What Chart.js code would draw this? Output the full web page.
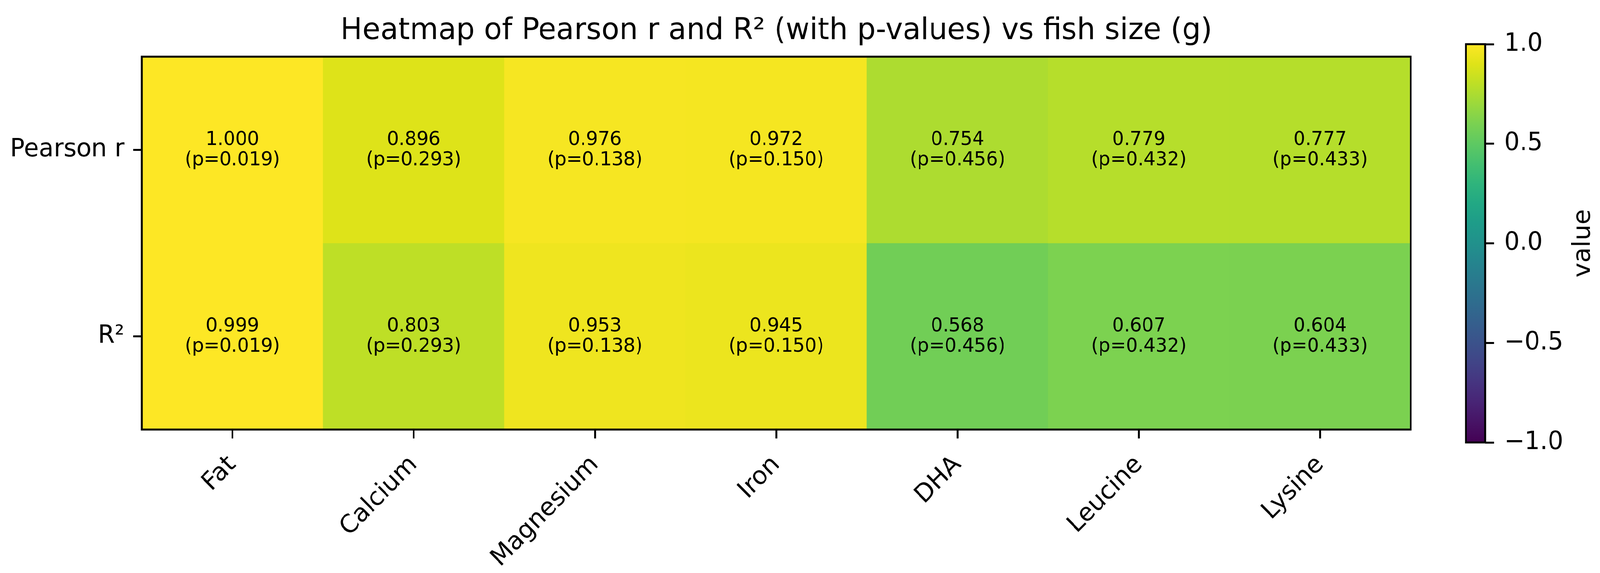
<!DOCTYPE html>
<html>
<head>
<meta charset="utf-8">
<script src="https://cdn.jsdelivr.net/npm/chart.js@4.4.1/dist/chart.umd.min.js"></script>
<style>
  html, body { margin: 0; padding: 0; background: #ffffff; overflow: hidden; }
  #stage { position: absolute; left: 0; top: 0; width: 4210px; height: 1466px; transform-origin: 0 0; }
  canvas { position: absolute; top: 0; }
  #main { left: 0; }
  #cbar { left: 3780px; }
</style>
</head>
<body>
<div id="stage">
<canvas id="main" width="4085" height="1466"></canvas>
<canvas id="cbar" width="430" height="1466"></canvas>
</div>
<script>
// ---------------- data ----------------
const categories = ['Fat', 'Calcium', 'Magnesium', 'Iron', 'DHA', 'Leucine', 'Lysine'];
const rowLabels = ['Pearson r', 'R²'];
const pearsonR = [1.000, 0.896, 0.976, 0.972, 0.754, 0.779, 0.777];
const rSquared = [0.999, 0.803, 0.953, 0.945, 0.568, 0.607, 0.604];
const pValues  = [0.019, 0.293, 0.138, 0.150, 0.456, 0.432, 0.433];
const titleText = 'Heatmap of Pearson r and R² (with p-values) vs fish size (g)';
const colorbarLabel = 'value';
const colorMin = -1, colorMax = 1;

const rowValues = [pearsonR, rSquared];

// fit the 4210x1466 design into the actual viewport
(function fitStage() {
  const sx = window.innerWidth / 4210, sy = window.innerHeight / 1466;
  document.getElementById('stage').style.transform = `scale(${sx}, ${sy})`;
})();

// ---------------- viridis colormap ----------------
const VIRIDIS = ['#440154','#471365','#482475','#463480','#414487','#3b528b','#355f8d',
  '#2f6c8e','#2a788e','#25848e','#21918c','#1e9c89','#22a884','#2fb47c','#44bf70',
  '#5ec962','#7ad151','#9bd93c','#bddf26','#dfe318','#fde725'];
function hexToRgb(h) { return [parseInt(h.slice(1,3),16), parseInt(h.slice(3,5),16), parseInt(h.slice(5,7),16)]; }
const VIR_RGB = VIRIDIS.map(hexToRgb);
function viridis(t) {
  t = Math.max(0, Math.min(1, t));
  const pos = t * (VIR_RGB.length - 1);
  const i = Math.min(Math.floor(pos), VIR_RGB.length - 2);
  const f = pos - i;
  const a = VIR_RGB[i], b = VIR_RGB[i + 1];
  const c = a.map((v, k) => Math.round(v + (b[k] - v) * f));
  return `rgb(${c[0]},${c[1]},${c[2]})`;
}
function colorFor(v) { return viridis((v - colorMin) / (colorMax - colorMin)); }

Chart.defaults.font.family = "'DejaVu Sans', 'Liberation Sans', sans-serif";
Chart.defaults.color = '#000000';

const LW = 5;            // axes line width
const TICK_LEN = 22.75;  // tick length
const TICK_FONT = 64;

const framePlugin = {
  id: 'frame',
  afterDraw(chart) {
    const { ctx, chartArea: a } = chart;
    ctx.save();
    ctx.strokeStyle = '#000';
    ctx.lineWidth = LW;
    ctx.strokeRect(a.left, a.top, a.right - a.left, a.bottom - a.top);
    ctx.restore();
  }
};

const cellTextPlugin = {
  id: 'cellText',
  afterDatasetsDraw(chart) {
    const { ctx } = chart;
    ctx.save();
    ctx.fillStyle = '#000';
    ctx.textAlign = 'center';
    ctx.textBaseline = 'alphabetic';
    ctx.font = "49px 'DejaVu Sans'";
    chart.data.datasets.forEach((ds, di) => {
      const meta = chart.getDatasetMeta(di);
      meta.data.forEach((el, j) => {
        const cy = (el.y + el.base) / 2;
        ctx.fillText(rowValues[di][j].toFixed(3), el.x, cy - 12.5);
        ctx.fillText('(p=' + pValues[j].toFixed(3) + ')', el.x, cy + 39);
      });
    });
    ctx.restore();
  }
};

// row i occupies [nRows-1-i, nRows-i] on the value axis
const nRows = rowLabels.length;
const datasets = rowLabels.map((lab, i) => ({
  label: lab,
  data: categories.map(() => [nRows - 1 - i, nRows - i]),
  backgroundColor: (c) => colorFor(rowValues[i][c.dataIndex]),
  borderWidth: 0,
  barPercentage: 1.0,
  categoryPercentage: 1.0,
  grouped: false,
  xAxisID: 'x',
  yAxisID: 'y'
}));

new Chart(document.getElementById('main'), {
  type: 'bar',
  data: { labels: categories, datasets },
  options: {
    responsive: false,
    animation: false,
    devicePixelRatio: 1,
    layout: { padding: { left: 0, right: 0, top: 0, bottom: 0 } },
    plugins: {
      legend: { display: false },
      tooltip: { enabled: false },
      title: {
        display: true,
        text: titleText,
        color: '#000',
        font: { size: 77, weight: 'normal' },
        padding: { top: 34.2, bottom: 18.4 }
      }
    },
    scales: {
      x: {
        type: 'category',
        offset: true,
        grid: { display: true, offset: false, drawOnChartArea: false, drawTicks: true,
                tickLength: TICK_LEN, tickColor: '#000', tickWidth: LW },
        border: { display: false },
        ticks: { color: '#000', font: { size: TICK_FONT }, minRotation: 45, maxRotation: 45,
                 padding: 30, autoSkip: false },
        afterFit(s) { s.height = 367; }
      },
      y: {
        type: 'linear',
        position: 'left',
        min: 0, max: nRows,
        grid: { display: true, drawOnChartArea: false, drawTicks: true,
                tickLength: TICK_LEN, tickColor: '#000', tickWidth: LW },
        border: { display: false },
        afterBuildTicks(s) { s.ticks = rowLabels.map((_, i) => ({ value: nRows - i - 0.5 })); },
        ticks: {
          color: '#000', font: { size: TICK_FONT }, padding: 22.75,
          callback: (v) => rowLabels[Math.round(nRows - 0.5 - v)]
        },
        afterFit(s) { s.width = 373; }
      },
      // empty spacer on the right so the title centres over the heatmap
      ySpacer: {
        type: 'linear',
        position: 'right',
        display: true,
        grid: { display: false },
        border: { display: false },
        ticks: { display: false },
        afterFit(s) { s.width = 373; }
      }
    }
  },
  plugins: [framePlugin, cellTextPlugin]
});

// ---------------- colorbar ----------------
const cbarLabelPlugin = {
  id: 'cbarLabel',
  afterDraw(chart) {
    const { ctx, chartArea: a } = chart;
    ctx.save();
    ctx.fillStyle = '#000';
    ctx.font = TICK_FONT + "px 'DejaVu Sans'";
    ctx.textAlign = 'center';
    ctx.textBaseline = 'alphabetic';
    ctx.translate(a.right + 275, (a.top + a.bottom) / 2);
    ctx.rotate(-Math.PI / 2);
    ctx.fillText(colorbarLabel, 0, 0);
    ctx.restore();
  }
};

new Chart(document.getElementById('cbar'), {
  type: 'bar',
  data: {
    labels: [colorbarLabel],
    datasets: [{
      data: [[colorMin, colorMax]],
      backgroundColor: (c) => {
        const a = c.chart.chartArea;
        if (!a) return '#888';
        const g = c.chart.ctx.createLinearGradient(0, a.bottom, 0, a.top);
        VIRIDIS.forEach((col, k) => g.addColorStop(k / (VIRIDIS.length - 1), col));
        return g;
      },
      borderWidth: 0,
      barPercentage: 1.0,
      categoryPercentage: 1.0
    }]
  },
  options: {
    responsive: false,
    animation: false,
    devicePixelRatio: 1,
    layout: { padding: { left: 77, right: 0, top: 113, bottom: 334 } },
    plugins: { legend: { display: false }, tooltip: { enabled: false } },
    scales: {
      x: { display: false, offset: true },
      y: {
        type: 'linear',
        position: 'right',
        min: colorMin, max: colorMax,
        grid: { display: true, drawOnChartArea: false, drawTicks: true,
                tickLength: TICK_LEN, tickColor: '#000', tickWidth: LW },
        border: { display: false },
        ticks: {
          stepSize: 0.5, color: '#000', font: { size: TICK_FONT }, padding: 27,
          callback: (v) => v.toFixed(1).replace('-', '\u2212')
        },
        afterFit(s) { s.width = 302; }
      }
    }
  },
  plugins: [framePlugin, cbarLabelPlugin]
});
</script>
</body>
</html>
